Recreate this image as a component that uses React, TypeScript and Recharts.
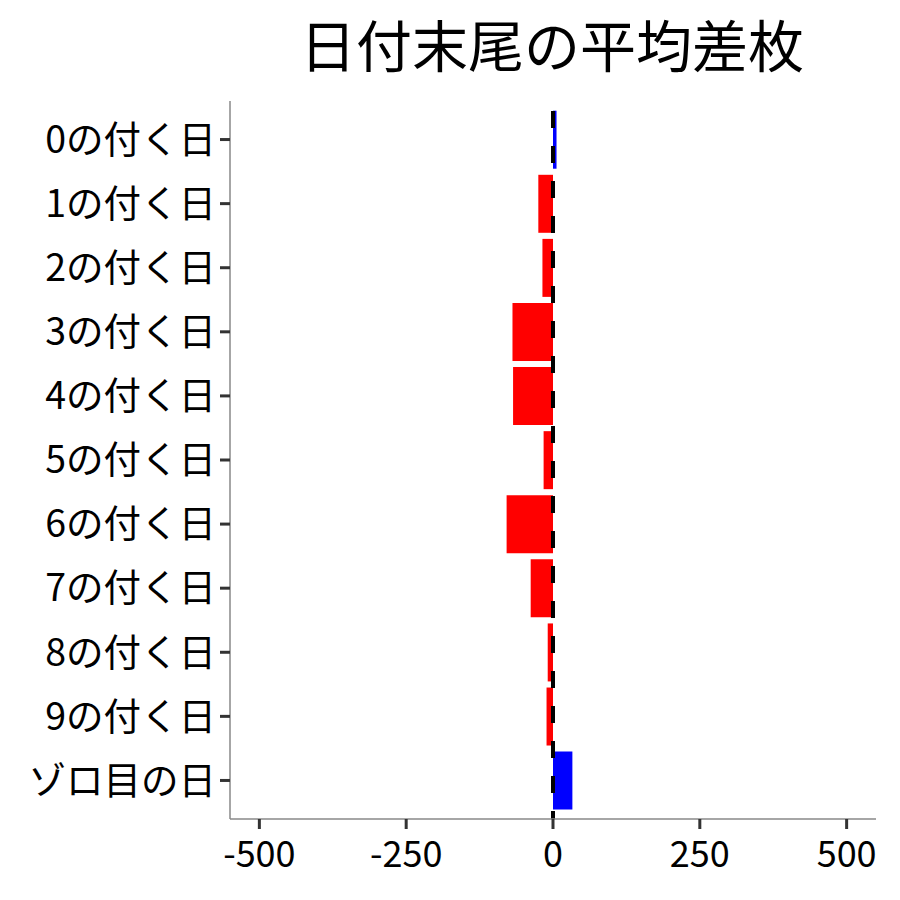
import React from "react";
import { BarChart, Bar, XAxis, YAxis, ReferenceLine, Cell } from "recharts";

const categories = [
  "0の付く日",
  "1の付く日",
  "2の付く日",
  "3の付く日",
  "4の付く日",
  "5の付く日",
  "6の付く日",
  "7の付く日",
  "8の付く日",
  "9の付く日",
  "ゾロ目の日",
];
const avgDiff = [6, -25, -18, -69, -68, -16, -79, -38, -9, -11, 33];
const xTicks = [-500, -250, 0, 250, 500];
const titleText = "日付末尾の平均差枚";

const data = categories.map((c, i) => ({ label: c, value: avgDiff[i] }));

const FONT = '"Noto Sans CJK JP", "Noto Sans", sans-serif';

export default function App() {
  return (
    <div style={{ position: "absolute", left: 0, top: 0, width: 900, height: 900, background: "#fff" }}>
      <div
        style={{
          position: "absolute",
          left: 552 - 300,
          width: 600,
          top: 15,
          textAlign: "center",
          fontFamily: FONT,
          fontSize: 56,
          lineHeight: 1,
          color: "#000",
        }}
      >
        {titleText}
      </div>
      <BarChart
        width={900}
        height={900}
        data={data}
        layout="vertical"
        margin={{ top: 101, right: 24, bottom: 0, left: 0 }}
        barCategoryGap="5%"
      >
        <XAxis
          type="number"
          domain={[-550, 550]}
          ticks={xTicks}
          allowDataOverflow
          height={81}
          axisLine={{ stroke: "#888", strokeWidth: 1.5 }}
          tickLine={{ stroke: "#333", strokeWidth: 3 }}
          tickSize={10}
          tickMargin={12}
          tick={{ fill: "#000", fontSize: 36, fontFamily: FONT }}
          interval={0}
        />
        <YAxis
          type="category"
          dataKey="label"
          width={230}
          padding={{ top: 6.5, bottom: 6.5 }}
          axisLine={{ stroke: "#888", strokeWidth: 1.5 }}
          tickLine={{ stroke: "#333", strokeWidth: 3 }}
          tickSize={10}
          tickMargin={4}
          tick={{ fill: "#000", fontSize: 37.5, fontFamily: FONT }}
          interval={0}
        />
        <Bar dataKey="value" isAnimationActive={false}>
          {data.map((d, i) => (
            <Cell key={i} fill={d.value >= 0 ? "#0000FF" : "#FF0000"} />
          ))}
        </Bar>
        <ReferenceLine
          x={0}
          stroke="#000"
          strokeWidth={4}
          strokeDasharray="17 18"
          strokeDashoffset={9}
        />
      </BarChart>
    </div>
  );
}
